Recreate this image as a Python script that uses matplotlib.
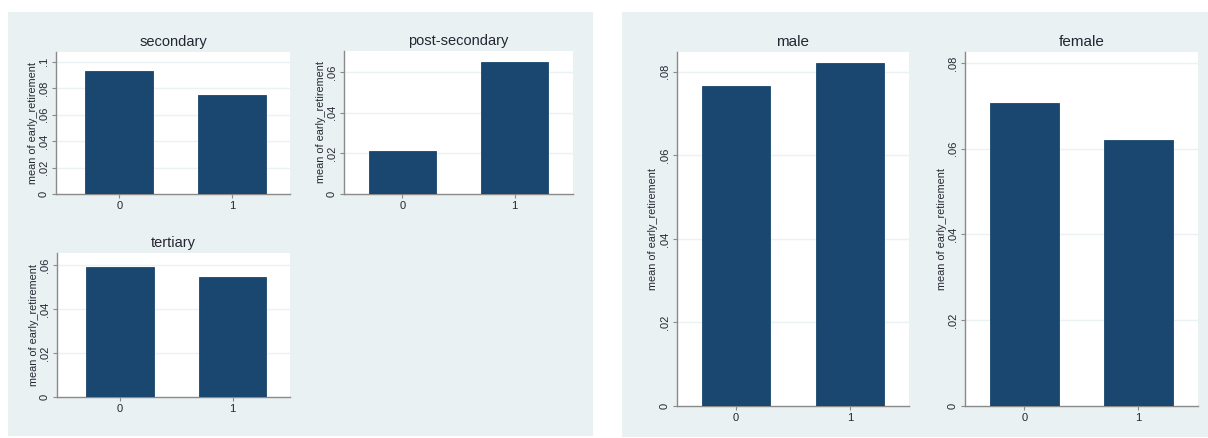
import matplotlib
matplotlib.use("Agg")
import matplotlib.pyplot as plt
from matplotlib.patches import Rectangle

plt.rcParams['font.family'] = ['Liberation Sans', 'DejaVu Sans']

# Category levels on the x axis
groups = ["0", "1"]

# Mean of early_retirement by education level
secondary = [0.093, 0.075]
post_secondary = [0.021, 0.065]
tertiary = [0.059, 0.0545]

# Mean of early_retirement by sex
male = [0.0766, 0.0821]
female = [0.0707, 0.0621]

ticks_secondary = [0, 0.02, 0.04, 0.06, 0.08, 0.1]
ticks_post = [0, 0.02, 0.04, 0.06]
ticks_tertiary = [0, 0.02, 0.04, 0.06]
ticks_sex = [0, 0.02, 0.04, 0.06, 0.08]

W, H = 1208, 438
BG = "#E9F1F2"
BAR = "#1A476F"
AXIS = "#8A8A8A"
GRID = "#EAF2F3"
TEXT = "#262633"

fig = plt.figure(figsize=(W / 100, H / 100), dpi=100)
fig.patch.set_facecolor("white")

# Background layer holding the light graph-region panels
bg = fig.add_axes([0, 0, 1, 1], zorder=-10)
bg.set_xlim(0, W)
bg.set_ylim(H, 0)
bg.axis("off")
for x0, y0, x1, y1 in [(8, 12, 593, 436), (622, 12, 1208, 437)]:
    bg.add_patch(Rectangle((x0, y0), x1 - x0, y1 - y0, facecolor=BG, edgecolor="none"))


def box(x0, y0, x1, y1):
    return [x0 / W, 1 - y1 / H, (x1 - x0) / W, (y1 - y0) / H]


def fmt(v):
    if v == 0:
        return "0"
    return f"{v:g}".lstrip("0")


def bar_panel(rect, title, values, ticks, ytop, title_size=10.5, xlim=(-0.52, 1.52)):
    ax = fig.add_axes(box(*rect))
    ax.set_facecolor("white")
    xs = list(range(len(groups)))
    ax.bar(xs, values, width=0.6, color=BAR, edgecolor=BAR, linewidth=0.6, zorder=3)
    ax.set_xlim(*xlim)
    ax.set_ylim(0, ytop)
    ax.set_xticks(xs)
    ax.set_xticklabels(groups)
    ax.set_yticks(ticks)
    ax.set_yticklabels([fmt(t) for t in ticks], rotation=90, va="center")
    for t in ticks[1:]:
        ax.axhline(t, color=GRID, linewidth=1.0, zorder=1)
    for s in ["top", "right"]:
        ax.spines[s].set_visible(False)
    for s in ["left", "bottom"]:
        ax.spines[s].set_color(AXIS)
        ax.spines[s].set_linewidth(1.0)
    ax.tick_params(axis="both", colors=AXIS, labelcolor=TEXT, labelsize=8,
                   length=3, width=0.8, pad=2)
    ax.set_ylabel("mean of early_retirement", fontsize=7.8, color=TEXT, labelpad=1)
    ax.set_title(title, fontsize=title_size, color=TEXT, pad=4)
    return ax


bar_panel((56, 51.7, 290, 194), "secondary", secondary, ticks_secondary, 0.1076,
          xlim=(-0.56, 1.51))
bar_panel((344, 51, 573, 194), "post-secondary", post_secondary, ticks_post, 0.0705)
bar_panel((57, 253, 290, 396.7), "tertiary", tertiary, ticks_tertiary, 0.0655,
          xlim=(-0.56, 1.51))
bar_panel((676.7, 51.7, 909.3, 406), "male", male, ticks_sex, 0.0848, 11)
bar_panel((965, 51.7, 1197.7, 406), "female", female, ticks_sex, 0.0826, 11)

fig.savefig("out.png", dpi=100)
